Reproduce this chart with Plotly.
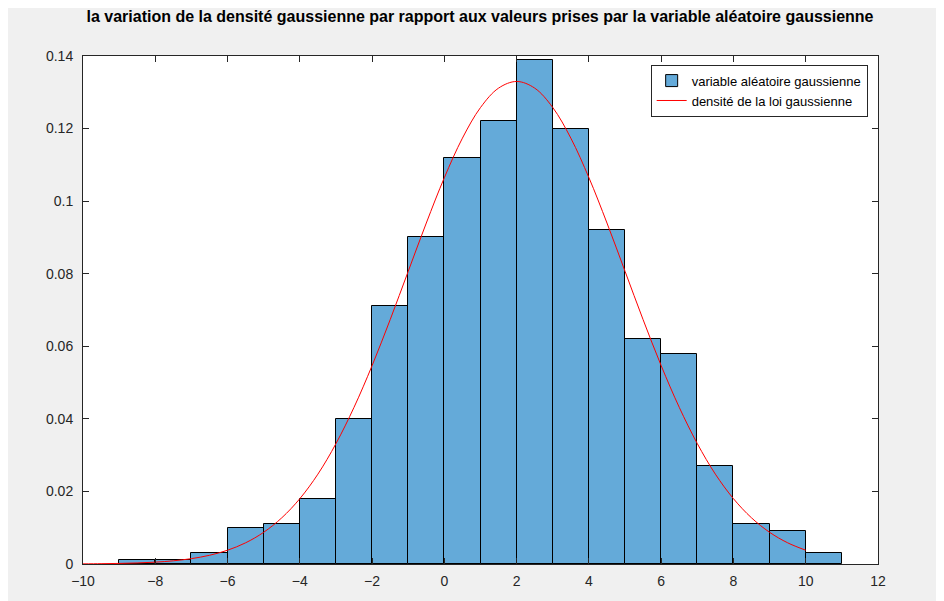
import plotly.graph_objects as go

# histogram bins (centres) and normalised heights
bin_centres = [-8.5, -7.5, -6.5, -5.5, -4.5, -3.5, -2.5, -1.5, -0.5, 0.5,
               1.5, 2.5, 3.5, 4.5, 5.5, 6.5, 7.5, 8.5, 9.5, 10.5]
bin_heights = [0.001, 0.001, 0.003, 0.010, 0.011, 0.018, 0.040, 0.071, 0.090, 0.112,
               0.122, 0.139, 0.120, 0.092, 0.062, 0.058, 0.027, 0.011, 0.009, 0.003]

# density curve (N(2, 3))
curve_x = [-10, -9.5, -9, -8.5, -8, -7.5, -7, -6.5, -6, -5.5, -5, -4.5, -4, -3.5,
           -3, -2.5, -2, -1.5, -1, -0.5, 0, 0.5, 1, 1.5, 2, 2.5, 3, 3.5, 4, 4.5,
           5, 5.5, 6, 6.5, 7, 7.5, 8, 8.5, 9, 9.5, 10]
half = [0.00004, 0.00009, 0.00016, 0.00029, 0.00051, 0.00088, 0.00148, 0.0024,
        0.0038, 0.00584, 0.00874, 0.01272, 0.0180, 0.02476, 0.03317, 0.04318,
        0.05467, 0.06733, 0.08066, 0.09397, 0.10648, 0.11736, 0.1258, 0.13115]
curve_y = half + [0.13298] + half[::-1][:16]

fig = go.Figure()
fig.add_trace(go.Bar(x=bin_centres, y=bin_heights, width=1,
                     marker=dict(color="#64aad9", line=dict(color="black", width=1)),
                     name="variable aléatoire gaussienne"))
fig.add_trace(go.Scatter(x=curve_x, y=curve_y, mode="lines",
                         line=dict(color="red", width=1, shape="spline"),
                         name="densité de la loi gaussienne"))

axis = dict(showgrid=False, zeroline=False, showline=True, linecolor="#262626",
            mirror="ticks", ticks="inside", ticklen=6, tickcolor="#262626",
            automargin=False, tickfont=dict(size=14, color="#262626"))
fig.update_layout(
    width=944, height=601,
    paper_bgcolor="#f0f0f0", plot_bgcolor="white",
    font=dict(family="Arial, Liberation Sans", color="#262626"),
    title=dict(text="<b>la variation de la densité gaussienne par rapport aux valeurs prises par la variable aléatoire gaussienne</b>",
               x=0.5, xanchor="center", y=0.995, yanchor="top", font=dict(size=16, color="black")),
    margin=dict(l=75, r=74, t=48, b=45),
    bargap=0,
    xaxis=dict(axis, range=[-10, 12], tickvals=list(range(-10, 13, 2)), ticklabelstandoff=4),
    yaxis=dict(axis, range=[0, 0.14], tickvals=[0, 0.02, 0.04, 0.06, 0.08, 0.1, 0.12, 0.14],
               ticktext=["0", "0.02", "0.04", "0.06", "0.08", "0.1", "0.12", "0.14"],
               ticklabelstandoff=6),
    legend=dict(x=0.987, y=0.983, xanchor="right", yanchor="top", bgcolor="white",
                bordercolor="#262626", borderwidth=1, font=dict(size=13, color="black"),
                tracegroupgap=0),
    showlegend=True,
)
fig.write_html("out.html")
